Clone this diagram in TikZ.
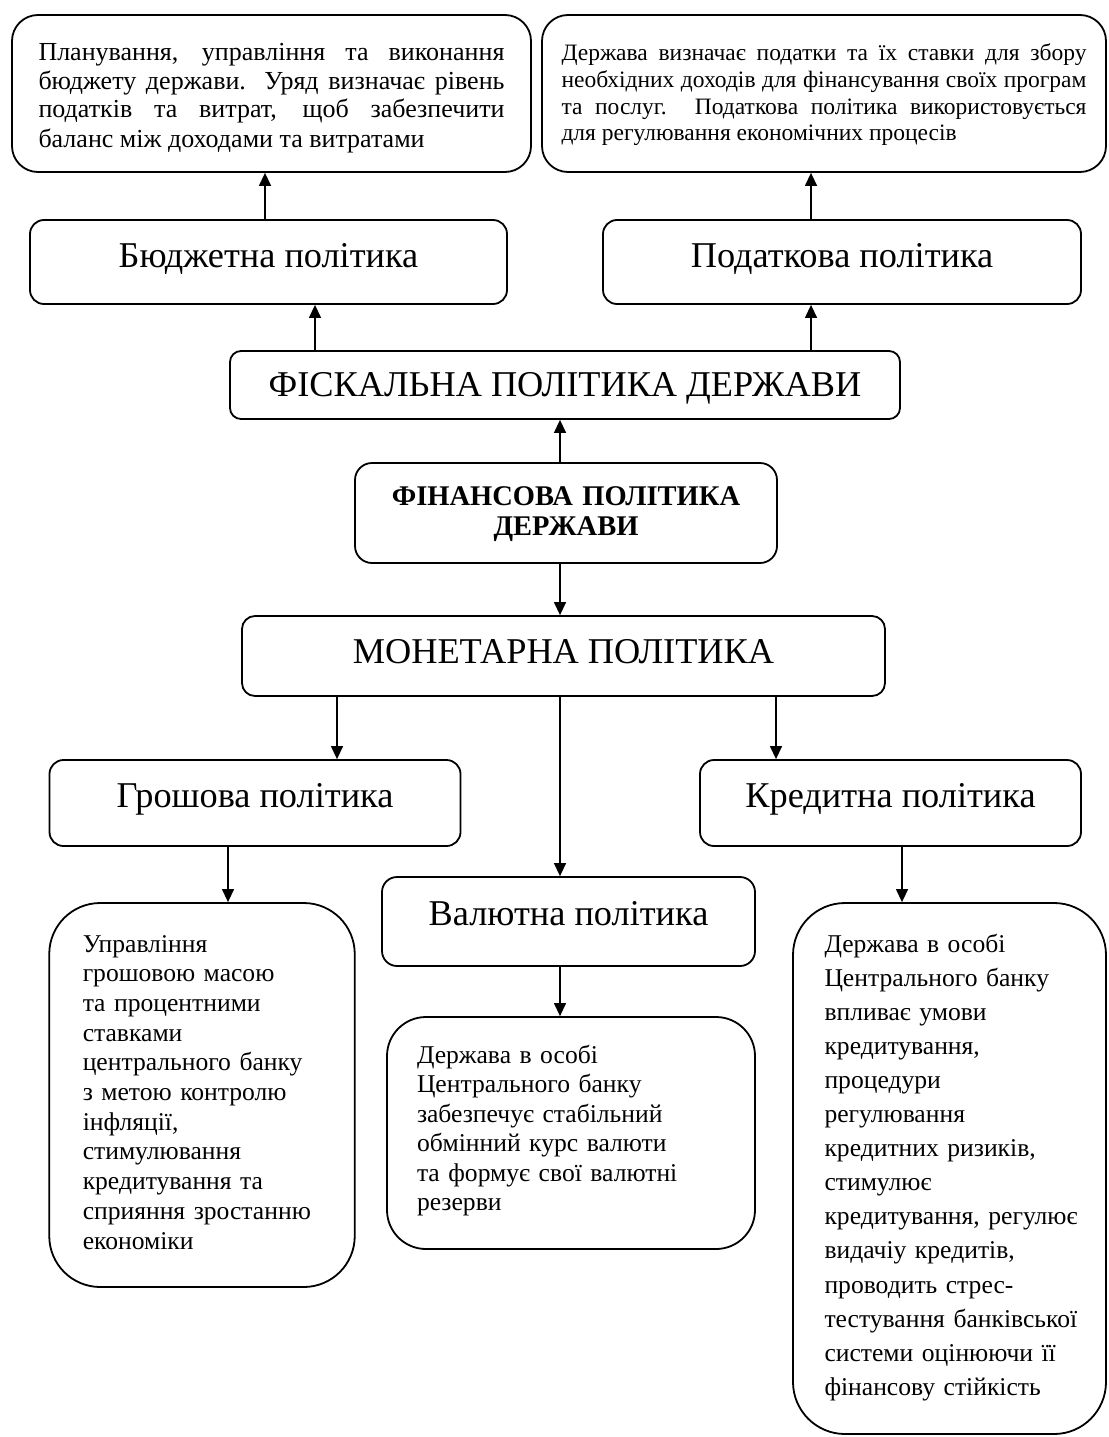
\documentclass[tikz,border=0pt]{standalone}
\usepackage{fontspec}
\setmainfont{Liberation Serif}
\usetikzlibrary{arrows.meta, positioning}
\tolerance=10000
\hbadness=10000
\hfuzz=20pt
\emergencystretch=20pt

\begin{document}
\begin{tikzpicture}[x=1pt, y=-1pt, >={Triangle[length=13pt,width=12pt]}]
    \tikzstyle{box}=[draw=black, line width=1.8pt, rectangle, inner sep=0pt]
    \tikzstyle{title box}=[box, rounded corners=14pt, font=\fontsize{36.3}{40}\selectfont, text height=18pt, text depth=8pt]
    \tikzstyle{text box}=[box, align=left, font=\fontsize{25.6}{29.7}\selectfont]
    \tikzstyle{arr}=[->, draw=black, line width=1.3pt]

    \useasboundingbox (0,0) rectangle (1108,1437);

    % Draw the description boxes on top
    \node[text box, rounded corners=26pt, text width=466pt, inner xsep=26.5pt, align=justify,
          font=\fontsize{26}{29}\selectfont, text height=45pt, text depth=112pt] (budgetdesc) at (271.5,93.5)
        {Планування, управління та виконання\linebreak
         бюджету держави. Уряд визначає рівень\linebreak
         податків та витрат, щоб забезпечити\linebreak
         баланс між доходами та витратами};
    \node[text box, rounded corners=26pt, text width=525pt, inner xsep=19.5pt, align=justify,
          font=\fontsize{23.5}{27}\selectfont, text height=45pt, text depth=112pt] (taxdesc) at (824,93.5)
        {Держава визначає податки та їх ставки для збору\linebreak
         необхідних доходів для фінансування своїх програм\linebreak
         та послуг. Податкова політика використовується\linebreak
         для регулювання економічних процесів};

    % Draw the policy boxes
    \node[title box, minimum width=477pt, minimum height=84pt] (budget) at (268.5,262) {Бюджетна політика};
    \node[title box, minimum width=478pt, minimum height=84pt] (tax) at (842,262) {Податкова політика};
    \node[title box, rounded corners=11pt, minimum width=670pt, minimum height=68pt,
          text height=24pt, text depth=2pt] (fiscal) at (565,385) {ФІСКАЛЬНА ПОЛІТИКА ДЕРЖАВИ};
    \node[box, rounded corners=17pt, text width=400pt, inner xsep=11pt, align=center,
          font=\fontsize{28.5}{30}\selectfont\bfseries, text height=42pt, text depth=58pt] (finance) at (566,513)
        {ФІНАНСОВА ПОЛІТИКА\\ДЕРЖАВИ};
    \node[title box, rounded corners=13pt, minimum width=643pt, minimum height=80pt,
          text height=20pt, text depth=6pt] (monetary) at (563.5,656) {МОНЕТАРНА ПОЛІТИКА};
    \node[title box, minimum width=411pt, minimum height=86pt, text depth=10pt] (money) at (255,803) {Грошова політика};
    \node[title box, minimum width=381pt, minimum height=86pt, text depth=10pt] (credit) at (890.5,803) {Кредитна політика};
    \node[title box, rounded corners=15pt, minimum width=373pt, minimum height=89pt,
          text depth=11pt] (currency) at (568.5,921.5) {Валютна політика};

    % Draw the description boxes at the bottom
    \node[text box, rounded corners=51pt, text width=238.5pt, inner xsep=33.5pt,
          text height=49pt, text depth=335pt] (moneydesc) at (202,1095)
        {Управління\\грошовою масою\\та процентними\\ставками\\\mbox{центрального банку}\\\mbox{з метою контролю}\\інфляції,\\стимулювання\\\mbox{кредитування та}\\\mbox{сприяння зростанню}\\економіки};
    \node[text box, rounded corners=39pt, text width=308pt, inner xsep=30pt,
          font=\fontsize{25.6}{29.5}\selectfont, text height=46pt, text depth=186pt] (currencydesc) at (571,1133)
        {Держава в особі\\Центрального банку\\забезпечує стабільний\\обмінний курс валюти\\та формує свої валютні\\резерви};
    \node[text box, rounded corners=52pt, text width=250pt, inner xsep=31.5pt,
          font=\fontsize{25.6}{34.1}\selectfont, text height=49pt, text depth=482pt] (creditdesc) at (949.5,1168.5)
        {Держава в особі\\\mbox{Центрального банку}\\впливає умови\\кредитування,\\процедури\\регулювання\\\mbox{кредитних ризиків,}\\стимулює\\\mbox{кредитування, регулює}\\\mbox{видачіу кредитів,}\\\mbox{проводить стрес-}\\\mbox{тестування банківської}\\\mbox{системи оцінюючи її}\\\mbox{фінансову стійкість}};

    % Connect the boxes upwards
    \foreach \source / \dest / \x in {budget/budgetdesc/265, tax/taxdesc/811, fiscal/budget/315,
                                      fiscal/tax/811, finance/fiscal/560}
        \draw[arr] (\source.north -| \x,0) -- (\dest.south -| \x,0);

    % Connect the boxes downwards
    \foreach \source / \dest / \x in {finance/monetary/560, monetary/money/337, monetary/currency/560,
                                      monetary/credit/776, money/moneydesc/228,
                                      currency/currencydesc/560, credit/creditdesc/902}
        \draw[arr] (\source.south -| \x,0) -- (\dest.north -| \x,0);

\end{tikzpicture}
\end{document}
